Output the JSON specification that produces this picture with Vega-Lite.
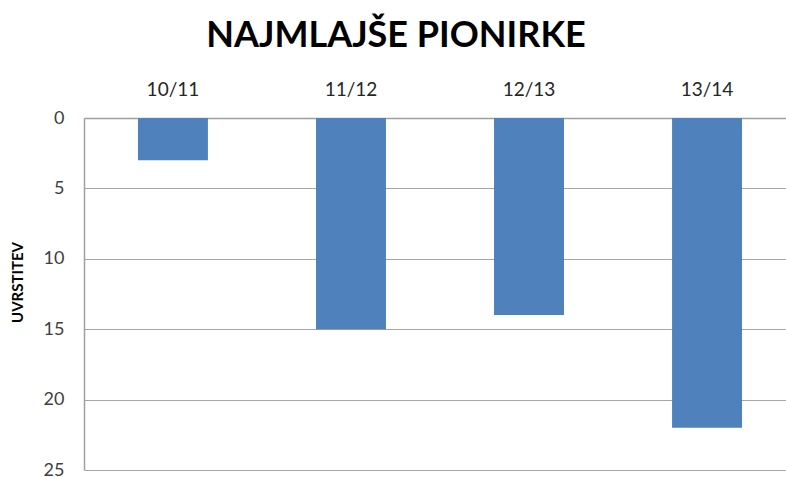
{
  "$schema": "https://vega.github.io/schema/vega-lite/v6.json",
  "autosize": "none",
  "width": 702,
  "height": 352,
  "padding": {"left": 84, "top": 118, "right": 0, "bottom": 7},
  "background": "white",
  "title": {
    "text": "NAJMLAJŠE PIONIRKE",
    "font": "Lato",
    "fontSize": 36,
    "fontWeight": "bold",
    "color": "#000000",
    "anchor": "middle",
    "dx": -39,
    "offset": 25
  },
  "data": {
    "values": [
      {"sezona": "10/11", "uvrstitev": 3},
      {"sezona": "11/12", "uvrstitev": 15},
      {"sezona": "12/13", "uvrstitev": 14},
      {"sezona": "13/14", "uvrstitev": 22}
    ]
  },
  "mark": {"type": "bar", "color": "#4f81bd"},
  "encoding": {
    "x": {
      "field": "sezona",
      "type": "nominal",
      "sort": null,
      "scale": {"paddingInner": 0.607, "paddingOuter": 0.275, "align": 0.551},
      "axis": {
        "orient": "top",
        "title": null,
        "labelAngle": 0,
        "ticks": false,
        "labelPadding": 19,
        "labelFont": "Lato",
        "labelFontSize": 19,
        "labelColor": "#262626",
        "domainColor": "#a0a0a0",
        "domainWidth": 1.5
      }
    },
    "y": {
      "field": "uvrstitev",
      "type": "quantitative",
      "scale": {"domain": [0, 25], "reverse": true, "nice": false},
      "axis": {
        "values": [0, 5, 10, 15, 20, 25],
        "title": "UVRSTITEV",
        "titleFont": "Lato",
        "titleFontSize": 15,
        "titleFontWeight": "bold",
        "titleColor": "#000000",
        "titlePadding": 18,
        "titleY": 164,
        "ticks": false,
        "labelPadding": 20,
        "labelFont": "Lato",
        "labelFontSize": 18,
        "labelColor": "#404040",
        "domainColor": "#a0a0a0",
        "domainWidth": 1.5,
        "grid": true,
        "gridColor": "#a6a6a6",
        "gridWidth": 1.2
      }
    }
  },
  "config": {"view": {"stroke": null}}
}
